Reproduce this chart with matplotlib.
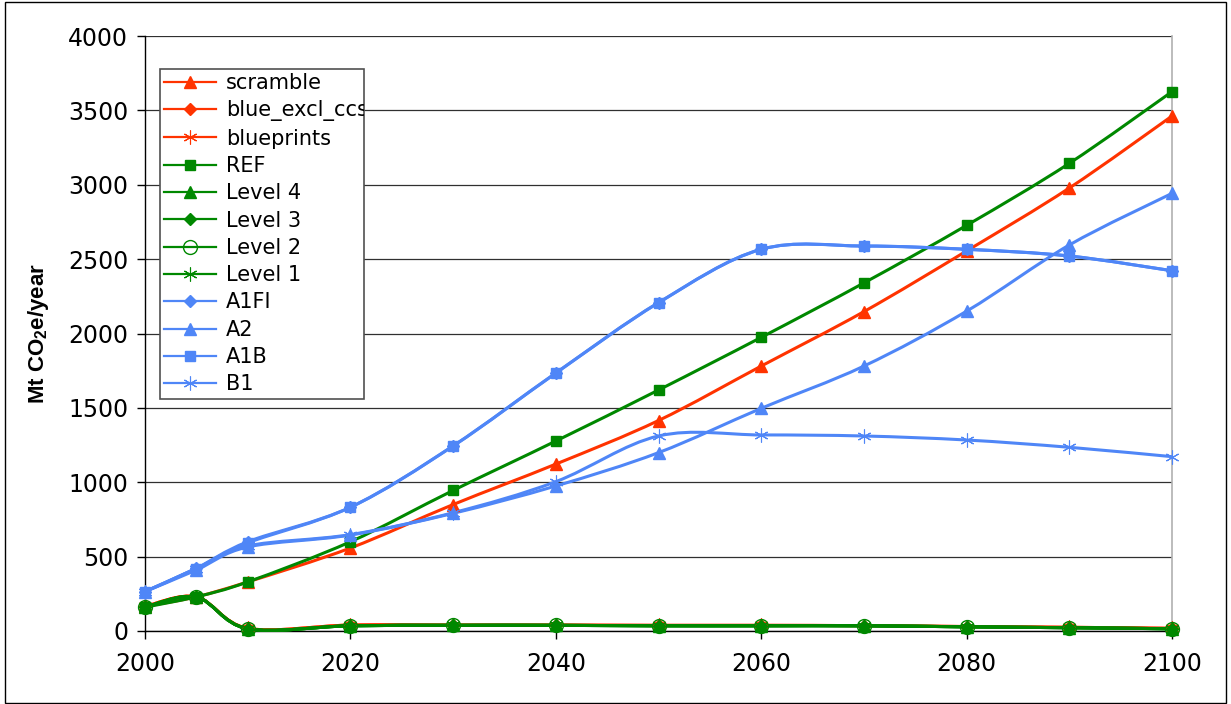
import matplotlib
matplotlib.use("Agg")
import matplotlib.pyplot as plt
from matplotlib.path import Path
from matplotlib.patches import PathPatch, Rectangle
from matplotlib.lines import Line2D

years = [2000, 2005, 2010, 2020, 2030, 2040, 2050, 2060, 2070, 2080, 2090, 2100]

scramble      = [165, 230, 330, 558, 850, 1122, 1415, 1781, 2147, 2555, 2978, 3462]
blue_excl_ccs = [165, 230, 18, 40, 40, 40, 38, 38, 36, 30, 25, 18]
blueprints    = [165, 230, 18, 40, 40, 40, 38, 38, 36, 30, 25, 18]
ref           = [160, 230, 330, 600, 945, 1277, 1620, 1974, 2340, 2727, 3144, 3626]
level4        = [160, 228, 15, 35, 38, 38, 35, 35, 35, 28, 22, 15]
level3        = [160, 228, 15, 35, 38, 38, 35, 35, 35, 28, 22, 15]
level2        = [160, 228, 15, 35, 38, 38, 35, 35, 35, 28, 22, 15]
level1        = [160, 228, 15, 35, 38, 38, 35, 35, 35, 28, 22, 15]
a1fi          = [265, 422, 600, 832, 1244, 1734, 2207, 2566, 2588, 2566, 2521, 2422]
a2            = [265, 410, 565, 645, 791, 975, 1199, 1497, 1781, 2150, 2595, 2942]
a1b           = [265, 420, 592, 832, 1244, 1734, 2207, 2566, 2588, 2566, 2521, 2422]
b1            = [265, 420, 572, 648, 795, 1004, 1311, 1318, 1311, 1284, 1235, 1172]

y_ticks = [0, 500, 1000, 1500, 2000, 2500, 3000, 3500, 4000]
x_ticks = [2000, 2020, 2040, 2060, 2080, 2100]
y_label = "Mt CO$_\\mathregular{2}$e/year"

RED = "#FF3300"
GREEN = "#008800"
BLUE = "#4F86F7"

series = [
    ("scramble", scramble, RED, dict(marker="^", ms=8, mfc=RED, mec=RED)),
    ("blue_excl_ccs", blue_excl_ccs, RED, dict(marker="D", ms=6, mfc=RED, mec=RED)),
    ("blueprints", blueprints, RED, dict(marker=(6, 2, 0), ms=10, mfc=RED, mec=RED, mew=0.8)),
    ("REF", ref, GREEN, dict(marker="s", ms=7, mfc=GREEN, mec=GREEN)),
    ("Level 4", level4, GREEN, dict(marker="^", ms=8, mfc=GREEN, mec=GREEN)),
    ("Level 3", level3, GREEN, dict(marker="D", ms=6, mfc=GREEN, mec=GREEN)),
    ("Level 2", level2, GREEN, dict(marker="o", ms=10, mfc="none", mec=GREEN, mew=1.0)),
    ("Level 1", level1, GREEN, dict(marker=(6, 2, 0), ms=10, mfc=GREEN, mec=GREEN, mew=0.8)),
    ("A1FI", a1fi, BLUE, dict(marker="D", ms=6, mfc=BLUE, mec=BLUE)),
    ("A2", a2, BLUE, dict(marker="^", ms=8, mfc=BLUE, mec=BLUE)),
    ("A1B", a1b, BLUE, dict(marker="s", ms=7, mfc=BLUE, mec=BLUE)),
    ("B1", b1, BLUE, dict(marker=(6, 2, 0), ms=10, mfc=BLUE, mec=BLUE, mew=0.8)),
]


def smooth_path(xs, ys):
    """Excel-like smoothed line: cubic Bezier segments through the data points."""
    n = len(xs)
    verts = [(xs[0], ys[0])]
    codes = [Path.MOVETO]
    for i in range(n - 1):
        x0, y0 = xs[max(i - 1, 0)], ys[max(i - 1, 0)]
        x1, y1 = xs[i], ys[i]
        x2, y2 = xs[i + 1], ys[i + 1]
        x3, y3 = xs[min(i + 2, n - 1)], ys[min(i + 2, n - 1)]
        c1 = (x1 + (x2 - x0) / 6.0, y1 + (y2 - y0) / 6.0)
        c2 = (x2 - (x3 - x1) / 6.0, y2 - (y3 - y1) / 6.0)
        verts += [c1, c2, (x2, y2)]
        codes += [Path.CURVE4] * 3
    return Path(verts, codes)


fig = plt.figure(figsize=(12.31, 7.04), dpi=100)
ax = fig.add_axes([145 / 1231, 1 - 631 / 704, (1172 - 145) / 1231, (631 - 36) / 704])

# outer frame
fig.patches.append(Rectangle((5 / 1231, 1 / 704), 1221 / 1231, 701 / 704,
                             transform=fig.transFigure, fill=False,
                             edgecolor="black", linewidth=1.0))

ax.set_xlim(2000, 2100)
ax.set_ylim(0, 4000)
ax.set_yticks(y_ticks)
ax.set_xticks(x_ticks)
ax.yaxis.grid(True, color="#303030", linewidth=0.9)
ax.set_axisbelow(True)
ax.tick_params(axis="both", direction="out", length=6, width=1, labelsize=17,
               colors="black")
ax.tick_params(axis="x", pad=9)
ax.tick_params(axis="y", pad=6)
ax.spines["top"].set_visible(False)
ax.spines["right"].set_color("#B0B0B0")
ax.spines["right"].set_linewidth(1.2)
ax.spines["left"].set_linewidth(1.0)
ax.spines["bottom"].set_linewidth(1.0)

for i, (name, vals, color, mk) in enumerate(series):
    ax.add_patch(PathPatch(smooth_path(years, vals), fill=False, edgecolor=color,
                           linewidth=2.2, zorder=3 + i * 0.01, clip_on=False))
    ax.plot(years, vals, linestyle="none", zorder=3.5 + i * 0.01, clip_on=False, **mk)

ax.set_ylabel(y_label, fontsize=16, fontweight="bold", family="Liberation Sans", labelpad=12)

handles = [Line2D([], [], color=c, linewidth=1.6, **mk) for (n, v, c, mk) in series]
labels = [n for (n, v, c, mk) in series]
leg = ax.legend(handles, labels, loc="upper left",
                bbox_to_anchor=(15 / 1027, 1 - 33 / 595, 204 / 1027, 0.0),
                mode="expand", fontsize=15, frameon=True, fancybox=False,
                edgecolor="#505050", framealpha=1.0, borderpad=0.2,
                labelspacing=0.35, handlelength=2.5, handletextpad=0.45,
                borderaxespad=0.0)
leg.get_frame().set_linewidth(1.2)
leg.set_zorder(10)

fig.canvas.draw()
frame_box = leg.get_frame().get_window_extent()
for t in leg.get_texts():
    t.set_clip_on(True)
    t.set_clip_box(frame_box)

fig.savefig("out.png", dpi=100)
